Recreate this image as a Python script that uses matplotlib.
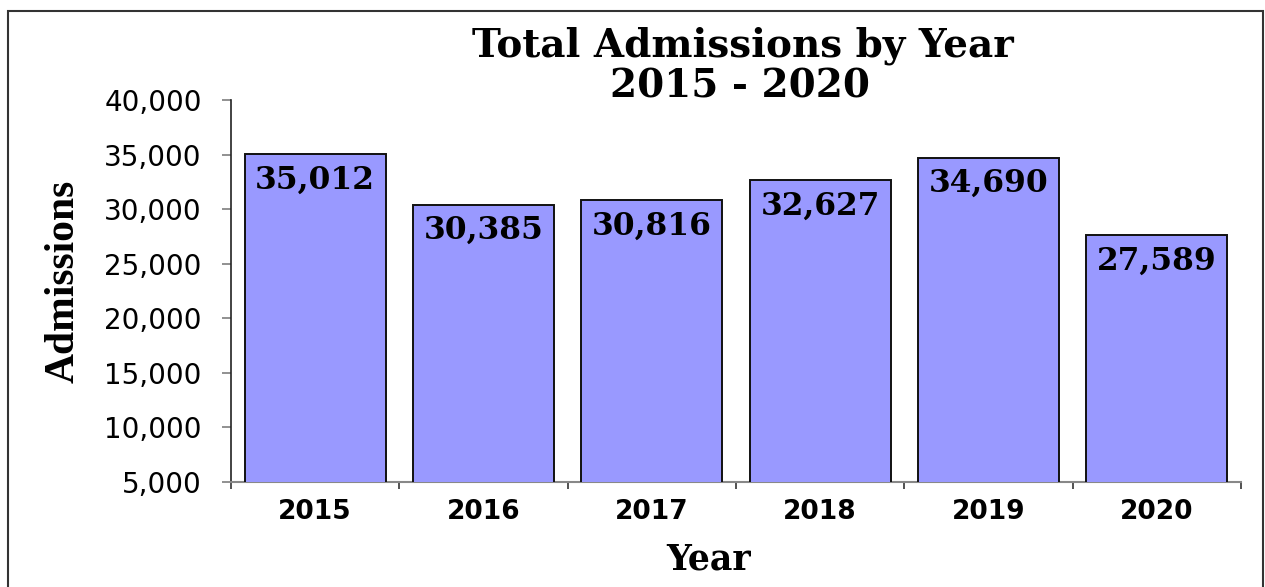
import matplotlib
matplotlib.use("Agg")
import matplotlib.pyplot as plt
from matplotlib.patches import Rectangle
from matplotlib.ticker import FuncFormatter, FixedLocator

years = ["2015", "2016", "2017", "2018", "2019", "2020"]
admissions = [35012, 30385, 30816, 32627, 34690, 27589]
title_lines = ["Total Admissions by Year", "2015 - 2020"]
ylabel = "Admissions"
xlabel = "Year"

W, H = 1265, 587
fig = plt.figure(figsize=(W / 100, H / 100), dpi=100)

# figure border (bottom edge off-canvas)
fig.patches.append(Rectangle((8 / W, -0.05), (1263 - 8) / W, 1.05 - 11 / H,
                             transform=fig.transFigure, fill=False,
                             edgecolor="#333333", linewidth=1.5))

ax = fig.add_axes([231 / W, 1 - 482 / H, (1241 - 231) / W, (482 - 100) / H])
x = list(range(len(years)))
ax.bar(x, admissions, width=0.836, color="#9999FF", edgecolor="#111111",
       linewidth=1.4, zorder=3)
ax.set_xlim(-0.5, len(years) - 0.5)
ax.set_ylim(5000, 40000)
ax.set_yticks(range(5000, 40001, 5000))
ax.yaxis.set_major_formatter(FuncFormatter(lambda v, p: f"{int(v):,}"))

for xi, v in zip(x, admissions):
    ax.annotate(f"{v:,}", (xi, v), xytext=(0, -18.5), textcoords="offset points",
                ha="center", va="center", fontsize=22.5, fontweight="bold",
                family="DejaVu Serif", color="black", zorder=4)

for s in ["top", "right"]:
    ax.spines[s].set_visible(False)
ax.spines["left"].set_color("#222222")
ax.spines["left"].set_linewidth(1.2)
ax.spines["bottom"].set_color("#888888")
ax.spines["bottom"].set_linewidth(1.5)

ax.tick_params(axis="y", direction="out", length=6.7, width=1.3, color="#888888",
               pad=14.4, labelsize=20, labelcolor="black")
for t in ax.get_yticklabels():
    t.set_family("DejaVu Sans")

ax.set_xticks(x)
ax.set_xticklabels(years, fontsize=19, fontweight="bold", family="DejaVu Sans")
ax.tick_params(axis="x", which="major", length=0, pad=12)
ax.xaxis.set_minor_locator(FixedLocator([i - 0.5 for i in range(len(years) + 1)]))
ax.tick_params(axis="x", which="minor", direction="out", length=5, width=1.2,
               color="#333333")

fig.text(743 / W, 1 - 46 / H, title_lines[0], ha="center", va="center",
         fontsize=28, fontweight="bold", family="DejaVu Serif")
fig.text(740 / W, 1 - 87 / H, title_lines[1], ha="center", va="center",
         fontsize=28, fontweight="bold", family="DejaVu Serif")
fig.text(709 / W, 1 - 560 / H, xlabel, ha="center", va="center",
         fontsize=25, fontweight="bold", family="DejaVu Serif")
fig.text(64 / W, 1 - 281 / H, ylabel, ha="center", va="center", rotation=90,
         fontsize=30, fontweight="bold", family="Liberation Serif")

fig.savefig("out.png", dpi=100, facecolor="white")
